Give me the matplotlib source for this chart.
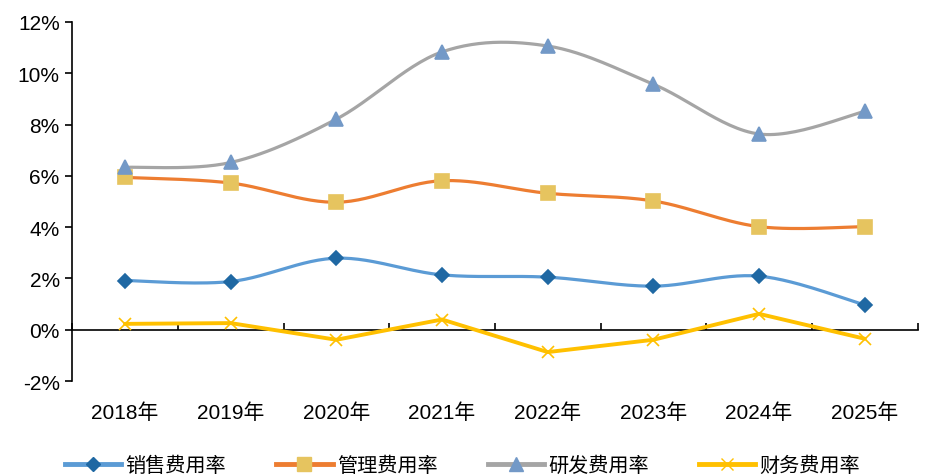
import matplotlib
matplotlib.use("Agg")
import matplotlib.pyplot as plt
import numpy as np
from matplotlib.ticker import FuncFormatter, MultipleLocator

years = ['2018年', '2019年', '2020年', '2021年', '2022年', '2023年', '2024年', '2025年']
sales = [1.92, 1.88, 2.79, 2.14, 2.05, 1.70, 2.09, 0.97]
admin = [5.94, 5.72, 4.97, 5.81, 5.32, 5.02, 4.02, 4.02]
rnd = [6.33, 6.52, 8.21, 10.83, 11.06, 9.57, 7.63, 8.51]
finance = [0.23, 0.26, -0.39, 0.40, -0.87, -0.39, 0.62, -0.35]

plt.rcParams['font.family'] = ['Liberation Sans', 'Noto Sans CJK SC', 'DejaVu Sans']


def smooth(x, y, n=30):
    # Excel-style smoothing: Catmull-Rom through bezier control points
    x = np.asarray(x, float)
    y = np.asarray(y, float)
    px = np.concatenate([[x[0]], x, [x[-1]]])
    py = np.concatenate([[y[0]], y, [y[-1]]])
    xs, ys = [], []
    t = np.linspace(0, 1, n)
    for i in range(1, len(px) - 2):
        p0 = np.array([px[i], py[i]])
        p3 = np.array([px[i + 1], py[i + 1]])
        c1 = p0 + (p3 - np.array([px[i - 1], py[i - 1]])) / 6
        c2 = p3 - (np.array([px[i + 2], py[i + 2]]) - p0) / 6
        b = ((1 - t) ** 3)[:, None] * p0 + (3 * (1 - t) ** 2 * t)[:, None] * c1 \
            + (3 * (1 - t) * t ** 2)[:, None] * c2 + (t ** 3)[:, None] * p3
        xs.extend(b[:, 0])
        ys.extend(b[:, 1])
    return np.array(xs), np.array(ys)


fig = plt.figure(figsize=(9.25, 4.77), dpi=100)
ax = fig.add_axes([0.078, 0.199, 0.914, 0.753])
x = np.arange(len(years))

series = [
    ('销售费用率', sales, '#5B9BD5', 'D', '#1F68A3', 7.5, True, 2.3),
    ('管理费用率', admin, '#ED7D31', 's', '#E6C45F', 10, True, 2.3),
    ('研发费用率', rnd, '#A5A5A5', '^', '#7399C7', 10, True, 2.3),
    ('财务费用率', finance, '#FFC000', 'x', '#FFC000', 9, False, 2.8),
]
handles = []
for name, vals, lc, mk, mc, ms, sm, lw in series:
    if sm:
        sx, sy = smooth(x, vals)
    else:
        sx, sy = x, vals
    ax.plot(sx, sy, color=lc, lw=lw, solid_capstyle='round', zorder=3)
    ax.plot(x, vals, ls='none', marker=mk, ms=ms, color=mc, mec=mc, mew=1.2, zorder=4)
    h, = ax.plot([], [], color=lc, lw=3.5, marker=mk, ms=ms, mfc=mc, mec=mc)
    handles.append((h, name))

ax.set_xlim(-0.5, 7.5)
ax.set_ylim(-2, 12)
ax.yaxis.set_major_locator(MultipleLocator(2))
ax.yaxis.set_major_formatter(FuncFormatter(lambda v, p: '%d%%' % round(v)))
ax.tick_params(axis='y', labelsize=15, length=5, width=1.2, direction='out', pad=4)

ax.set_xticks(x)
ax.set_xticklabels(years)
ax.tick_params(axis='x', labelsize=15, length=0, pad=15)

for s in ['top', 'right', 'bottom']:
    ax.spines[s].set_visible(False)
ax.spines['left'].set_linewidth(1.2)

# zero line with category boundary ticks
zero = ax.secondary_xaxis((0 - (-2)) / 14)
zero.set_xticks(np.arange(-0.5, 8, 1))
zero.set_xticklabels([])
zero.tick_params(direction='in', length=5, width=1.2)
zero.spines['bottom'].set_linewidth(1.2)

fig.legend([h for h, n in handles], [n for h, n in handles], loc='center',
           bbox_to_anchor=(0.5, 0.022), ncol=4, frameon=False, handlelength=2.8,
           columnspacing=2.5, handletextpad=0.2,
           prop={'family': ['Noto Sans CJK SC'], 'size': 14.5})

fig.savefig('out.png', dpi=100)
